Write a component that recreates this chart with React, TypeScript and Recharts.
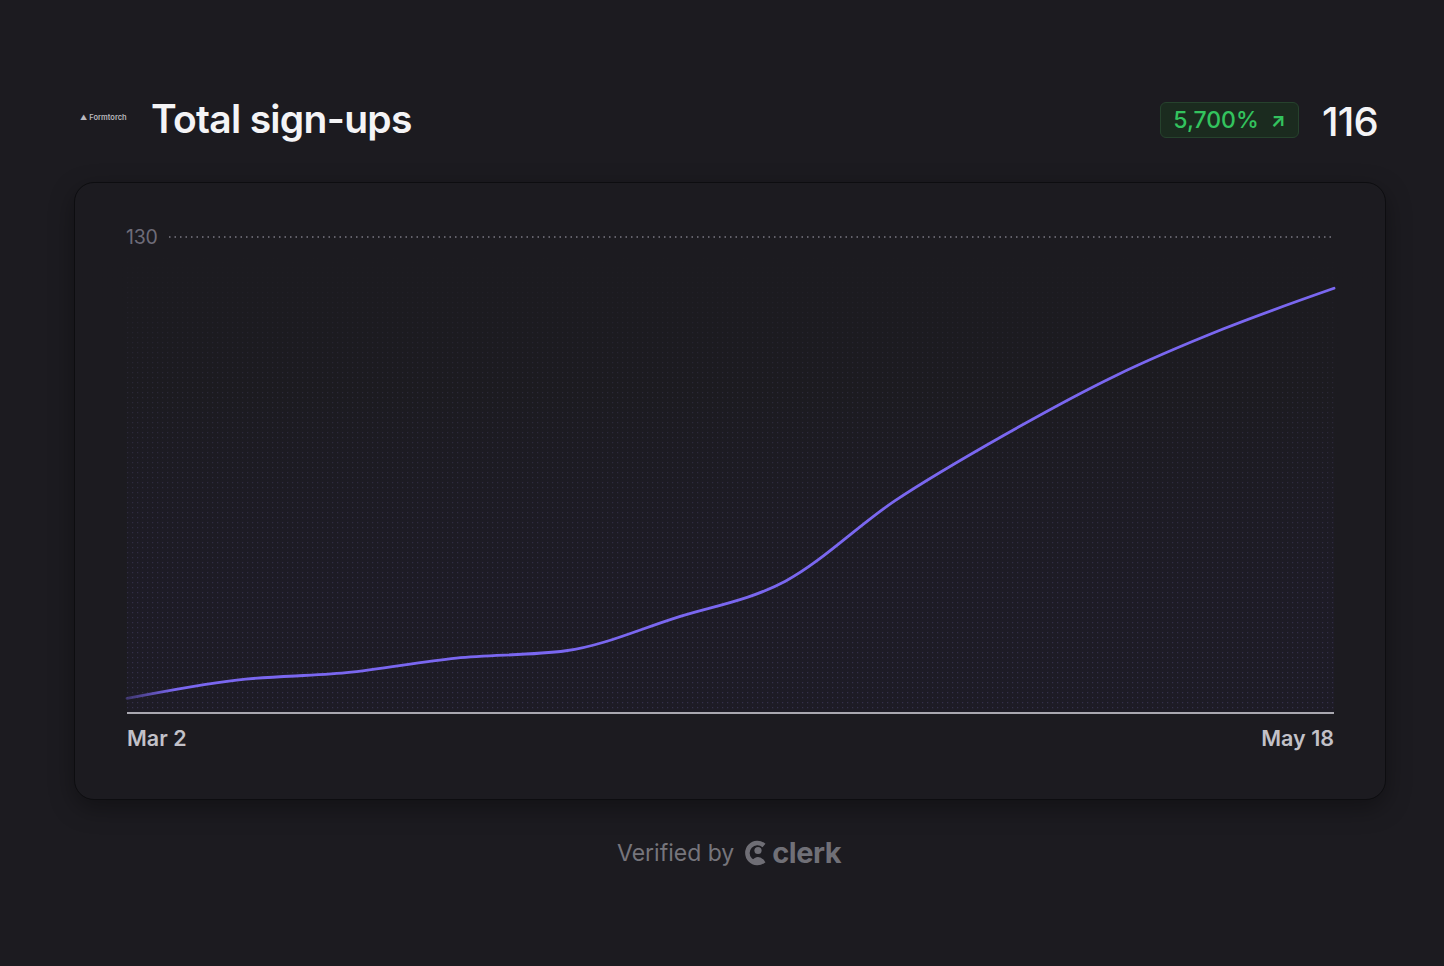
import { LineChart, Line, XAxis, YAxis, ReferenceArea } from 'recharts';

// weekly cumulative sign-ups
const dates = ['Mar 2', 'Mar 9', 'Mar 16', 'Mar 23', 'Mar 30', 'Apr 6', 'Apr 13', 'Apr 20', 'Apr 27', 'May 4', 'May 11', 'May 18'];
const signups = [4, 9, 11, 15, 17, 26, 36, 58, 76, 92, 105, 116];
const yTicks = [130];
const xTicks = ['Mar 2', 'May 18'];

const data = dates.map((date, i) => ({ date, signups: signups[i] }));

const BG = '#1c1b20';
const LINE = '#7a67f0';

const M = { top: 17, right: 7, bottom: 0, left: 6 };
const CHART_W = 1221;
const CHART_H = 543;
const PLOT_L = 7;
const PLOT_R = CHART_W - M.right;

const YTick = (props: any) => {
  const { y, payload } = props;
  return (
    <g>
      <text x={PLOT_L - 1} y={y} dy={7} fill="#6e6c79" fontSize={19.5} fontFamily="Inter" textAnchor="start" letterSpacing={-0.3}>
        {payload.value}
      </text>
      <line x1={PLOT_L + 42} x2={PLOT_R} y1={y} y2={y} stroke="#7a7982" strokeWidth={1.5} strokeDasharray="1.5 4" />
    </g>
  );
};

const XTick = (props: any) => {
  const { x, y, payload, index } = props;
  return (
    <text x={x} y={y} dy={25} fill="#c2c1c8" fontSize={21.5} fontWeight={600} fontFamily="Inter"
      textAnchor={index === 0 ? 'start' : 'end'}>
      {payload.value}
    </text>
  );
};

function ClerkIcon() {
  return (
    <svg width={24} height={26} viewBox="0 0 24 26" style={{ verticalAlign: 'middle' }}>
      <path d="M19 5.5 A10 10 0 1 0 19 20.5" fill="none" stroke="#6f6e75" strokeWidth={4.5} />
      <circle cx={13} cy={10.5} r={3.6} fill="#6f6e75" />
      <path d="M6.5 21 Q13 13 19.5 21 Z" fill="#6f6e75" />
    </svg>
  );
}

export default function App() {
  return (
    <div style={{ position: 'fixed', left: 0, top: 0, width: 1444, height: 966, background: BG, fontFamily: 'Inter, sans-serif', overflow: 'hidden' }}>
      {/* header */}
      <div style={{ position: 'absolute', left: 80, top: 113, fontSize: 7.5, color: '#b9b8be', fontWeight: 600, display: 'flex', alignItems: 'center', gap: 2 }}>
        <span style={{ fontSize: 7 }}>▲</span>Formtorch
      </div>
      <div style={{ position: 'absolute', left: 151, top: 95, fontSize: 39, fontWeight: 600, color: '#f4f4f6', letterSpacing: -0.7 }}>
        Total sign-ups
      </div>
      <div style={{ position: 'absolute', left: 1160, top: 102, width: 137, height: 34, borderRadius: 6, background: '#1b2b1f', border: '1px solid #26422d', color: '#33c35e', fontSize: 23, fontWeight: 500, display: 'flex', alignItems: 'center', justifyContent: 'center', gap: 12 }}>
        <span>5,700%</span><span style={{ fontSize: 19, fontWeight: 700 }}>↗</span>
      </div>
      <div style={{ position: 'absolute', left: 1322, top: 97, fontSize: 40, fontWeight: 500, color: '#f4f4f6', letterSpacing: -0.8 }}>
        116
      </div>

      {/* card */}
      <div style={{ position: 'absolute', left: 74, top: 182, width: 1310, height: 616, borderRadius: 20, border: '1.5px solid #0d0d10', background: BG, boxShadow: '0 8px 24px rgba(0,0,0,0.35)' }} />

      <div style={{ position: 'absolute', left: 120, top: 220 }}>
        <LineChart width={CHART_W} height={CHART_H} data={data} margin={M}>
          <defs>
            <pattern id="dots" width={5} height={5} patternUnits="userSpaceOnUse">
              <rect x={2} y={2} width={1.2} height={1.2} fill="#3a3650" />
            </pattern>
            <linearGradient id="fade" x1="0" y1="0" x2="0" y2="1">
              <stop offset="0%" stopColor={BG} stopOpacity={1} />
              <stop offset="8%" stopColor={BG} stopOpacity={0.85} />
              <stop offset="30%" stopColor={BG} stopOpacity={0.5} />
              <stop offset="100%" stopColor="#221d3a" stopOpacity={0.2} />
            </linearGradient>
            <linearGradient id="lineFade" x1="0" y1="0" x2="1" y2="0">
              <stop offset="0%" stopColor={LINE} stopOpacity={0.35} />
              <stop offset="4%" stopColor={LINE} stopOpacity={1} />
              <stop offset="100%" stopColor={LINE} stopOpacity={1} />
            </linearGradient>
          </defs>
          <YAxis domain={[0, 130]} ticks={yTicks} width={1} axisLine={false} tickLine={false} tick={<YTick />} />
          <XAxis dataKey="date" ticks={xTicks} interval={0} tickLine={false} tick={<XTick />}
            axisLine={{ stroke: '#a9a8b0', strokeWidth: 2 }} height={50} />
          <ReferenceArea x1="Mar 2" x2="May 18" y1={0} y2={125} fill="url(#dots)" fillOpacity={1} stroke="none" ifOverflow="hidden" />
          <ReferenceArea x1="Mar 2" x2="May 18" y1={0} y2={125} fill="url(#fade)" fillOpacity={1} stroke="none" ifOverflow="hidden" />
          <Line type="monotone" dataKey="signups" stroke="url(#lineFade)" strokeWidth={2.8} dot={false}
            activeDot={false} isAnimationActive={false} strokeLinecap="round" />
        </LineChart>
      </div>

      {/* footer */}
      <div style={{ position: 'absolute', left: 7, width: 1444, top: 835, display: 'flex', justifyContent: 'center', alignItems: 'center', color: '#76757c', fontSize: 23 }}>
        <span style={{ marginRight: 11 }}>Verified by</span>
        <ClerkIcon />
        <span style={{ fontWeight: 700, fontSize: 29, marginLeft: 3, letterSpacing: -0.5, color: '#707077' }}>clerk</span>
      </div>
    </div>
  );
}
